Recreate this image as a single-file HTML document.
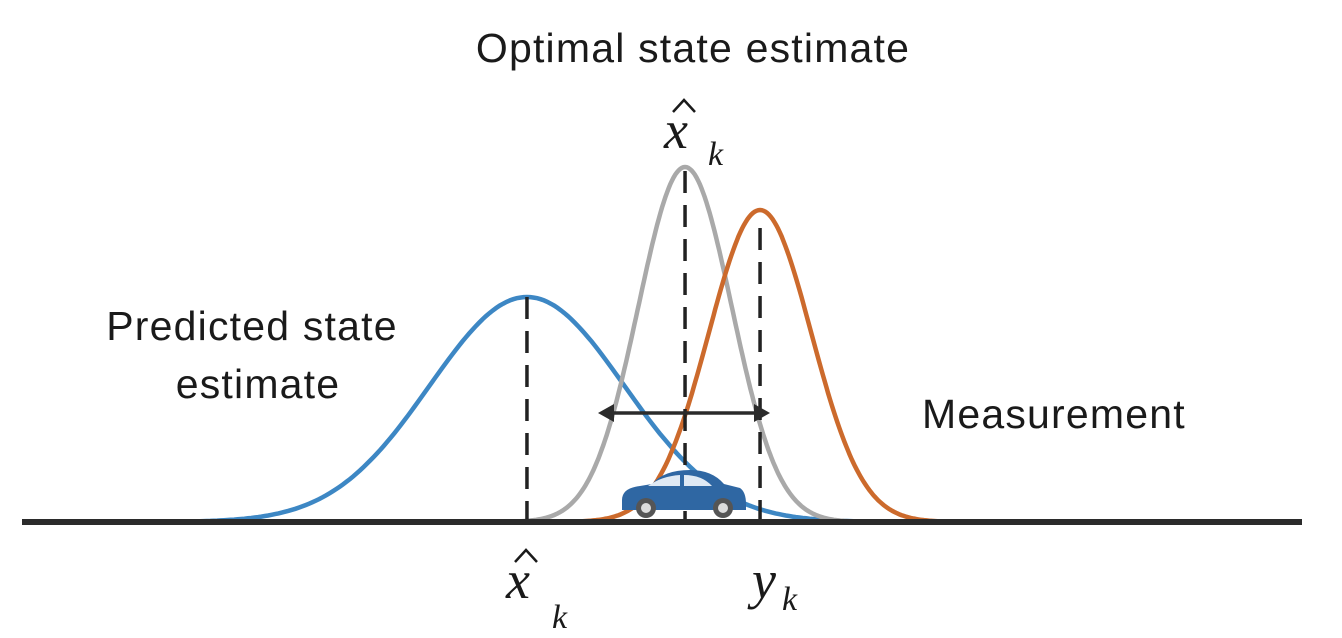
<!DOCTYPE html>
<html><head><meta charset="utf-8"><style>
html,body{margin:0;padding:0;background:#fff;}
svg{display:block;}
.lbl{font-family:"Liberation Sans",sans-serif;font-size:41px;fill:#1a1a1a;letter-spacing:1.2px;}
.m{font-family:"Liberation Serif",serif;font-style:italic;fill:#1a1a1a;}
</style></head><body>
<svg id="chart" width="1342" height="638" viewBox="0 0 1342 638">
<g id="curves"></g>
<g id="dashes"></g>
<line x1="22" y1="522" x2="1302" y2="522" stroke="#2b2b2b" stroke-width="6"/>
<g>
<line x1="608" y1="413" x2="760" y2="413" stroke="#2b2b2b" stroke-width="3.5"/>
<polygon points="598,413 614,404 614,422" fill="#2b2b2b"/>
<polygon points="770,413 754,404 754,422" fill="#2b2b2b"/>
</g>
<g>
<path d="M622,500 Q622,488 640,486 L652,484 Q664,470 690,470 Q712,470 724,484 L740,488 Q746,492 746,504 L746,510 L622,510 Z" fill="#2f67a3"/>
<path d="M648,486 Q662,476 680,475 L680,486 Z" fill="#dfe9f4"/>
<path d="M684,475 Q702,475 712,486 L684,486 Z" fill="#dfe9f4"/>
<circle cx="646" cy="508" r="10" fill="#555"/><circle cx="646" cy="508" r="5" fill="#ddd"/>
<circle cx="723" cy="508" r="10" fill="#555"/><circle cx="723" cy="508" r="5" fill="#ddd"/>
</g>
<text class="lbl" x="693" y="62" text-anchor="middle">Optimal state estimate</text>
<text class="lbl" x="252" y="340" text-anchor="middle">Predicted state</text>
<text class="lbl" x="258" y="398" text-anchor="middle">estimate</text>
<text class="lbl" x="922" y="428">Measurement</text>
<g>
<text class="m" x="664" y="148" font-size="54">x</text><path d="M673,112 L684,100 L695,112" fill="none" stroke="#1a1a1a" stroke-width="2.5"/><text class="m" x="708" y="165" font-size="34">k</text></g>
<g>
<text class="m" x="506" y="598" font-size="54">x</text><path d="M515,562 L526,550 L537,562" fill="none" stroke="#1a1a1a" stroke-width="2.5"/><text class="m" x="552" y="628" font-size="34">k</text></g>
<g>
<text class="m" x="752" y="598" font-size="54">y</text><text class="m" x="782" y="610" font-size="34">k</text></g>
</svg>
<script>
const series = ["predicted","optimal","measurement"];
const means = [39.45, 51.8, 57.66];
const sigmas = [7.6, 3.65, 4.0];
const peaks = [0.5625, 0.8875, 0.78];
const colors = ["#3d87c4","#a9a9a9","#cc6a2c"];
const xs = v => 22 + v*12.8;
const ys = v => 522 - v*400;
const NS="http://www.w3.org/2000/svg";
const cg=document.getElementById('curves'), dg=document.getElementById('dashes');
series.forEach((s,i)=>{
  let d="";
  for(let k=0;k<=200;k++){
    const t=-3.5+7*k/200, v=means[i]+t*sigmas[i];
    const y=peaks[i]*Math.exp(-t*t/2);
    d+=(k?"L":"M")+xs(v).toFixed(1)+","+ys(y).toFixed(1);
  }
  const p=document.createElementNS(NS,'path');
  p.setAttribute('d',d);p.setAttribute('fill','none');p.setAttribute('stroke',colors[i]);p.setAttribute('stroke-width','4.5');
  
  
  cg.appendChild(p);
  const l=document.createElementNS(NS,'line');
  const top = i===0 ? ys(peaks[i]) : ys(peaks[i])+ (i===2?18:4);
  l.setAttribute('x1',xs(means[i]));l.setAttribute('x2',xs(means[i]));
  l.setAttribute('y1',top);l.setAttribute('y2',520);
  l.setAttribute('stroke','#222');l.setAttribute('stroke-width','3.5');l.setAttribute('stroke-dasharray','22,12');
  
  
  dg.appendChild(l);
});
</script>
</body></html>
